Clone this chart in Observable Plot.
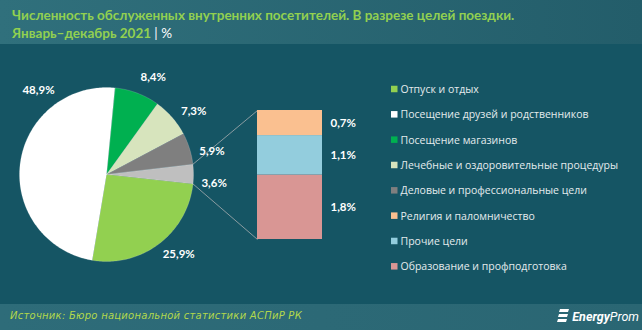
<!DOCTYPE html>
<html><head><meta charset="utf-8">
<script src="https://cdn.jsdelivr.net/npm/d3@7"></script>
<script src="https://cdn.jsdelivr.net/npm/@observablehq/plot@0.6"></script>
<style>
body{margin:0;background:#155564;}
#wrap{width:642px;height:330px;position:relative;overflow:hidden;background:#155564;}
#head{height:44px;background:linear-gradient(90deg,#30707c,#235d6a);box-sizing:border-box;padding:6px 0 0 12px;}
.t{font-family:Lato,sans-serif;font-weight:bold;font-size:13.5px;color:#92d050;line-height:18px;white-space:nowrap;}
.t .u{color:#ffffff;font-weight:normal;}
#chart{height:260px;}
#chart svg{display:block;}
#foot{height:26px;background:linear-gradient(90deg,#2e6c79,#2a6673);position:relative;}
#src{position:absolute;left:10px;top:6px;font-family:"DejaVu Sans",sans-serif;font-style:italic;font-size:10px;letter-spacing:0.25px;color:#b3d84c;}
#logo{position:absolute;right:3px;top:4px;display:flex;align-items:center;gap:3px;font-family:Roboto,sans-serif;font-style:italic;font-size:12.5px;color:#fff;}
#logo b{font-weight:bold;}
</style></head>
<body><div id="wrap">
<div id="head">
<div class="t">Численность обслуженных внутренних посетителей. В разрезе целей поездки.</div>
<div class="t">Январь–декабрь 2021 <span class="u">| %</span></div>
</div>
<div id="chart"></div>
<div id="foot">
<div id="src">Источник: Бюро национальной статистики АСПиР РК</div>
<div id="logo"><svg width="12" height="16" viewBox="0 0 12 16"><path d="M3 1h9l-1 3H2z M2 6h9l-1 3H1z M1 11h9l-1 3H0z" fill="#fff"/></svg><span><b>Energy</b>Prom</span></div>
</div>
</div>
<script>
// ---- data ----
const categories = ["Отпуск и отдых", "Посещение друзей и родственников", "Посещение магазинов", "Лечебные и оздоровительные процедуры", "Деловые и профессиональные цели", "Религия и паломничество", "Прочие цели", "Образование и профподготовка"];
const values = [25.9, 48.9, 8.4, 7.3, 5.9, 0.7, 1.1, 1.8];
const colors = ["#92d050", "#ffffff", "#00b050", "#d7e4bd", "#7f7f7f", "#fac090", "#93cddd", "#d99694"];
const otherIdx = [5, 6, 7];          // shown in the bar of pie
const pieOrder = [2, 3, 4, "other", 0, 1]; // clockwise
const otherColor = "#bfbfbf";

// ---- layout ----
const L = {top: 44, W: 642, H: 260, cx: 106, cy: 174, r: 87, start: 5.5,
  barX1: 257, barX2: 322, barTop: 110, barH: 129, labelR: 108, labelNudge: 5,
  legX1: 391, legX2: 397.5, legY0: 89, legDy: 25.33};
const nudgeOverride = {1: 43.5, 0: -4.8};

const fmt = v => d3.format(".1f")(v).replace(".", ",") + "%";
const otherTotal = d3.sum(otherIdx, i => values[i]);
const slices = pieOrder.map(k => k === "other"
  ? {key: "other", value: otherTotal, color: otherColor}
  : {key: k, value: values[k], color: colors[k]});
const total = d3.sum(slices, d => d.value);
let acc = L.start;
slices.forEach(s => { s.a0 = acc; acc += s.value / total * 360; s.a1 = acc; });
const pt = (a, rr) => ({x: L.cx + rr * Math.sin(a * Math.PI / 180), y: L.cy - rr * Math.cos(a * Math.PI / 180)});

slices.forEach(s => {
  s.pts = [{x: L.cx, y: L.cy}];
  const n = Math.max(2, Math.ceil(s.a1 - s.a0));
  for (let j = 0; j <= n; j++) s.pts.push(pt(s.a0 + (s.a1 - s.a0) * j / n, L.r));
});
const disk = d3.range(0, 361, 2).map(a => pt(a, L.r));

const pieLabels = slices.map(s => {
  const nd = nudgeOverride[s.key] !== undefined ? nudgeOverride[s.key] : L.labelNudge;
  const p = pt((s.a0 + s.a1) / 2 + nd, L.labelR);
  return {...p, text: fmt(s.value)};
});

// bar of pie (bottom -> top)
const k = L.barH / otherTotal;
let cum = 0;
const barSegs = otherIdx.slice().reverse().map(i => {
  const y1 = L.barTop + L.barH - cum * k; cum += values[i];
  const y2 = L.barTop + L.barH - cum * k;
  return {x1: L.barX1, x2: L.barX2, y1, y2, fill: colors[i], ym: (y1 + y2) / 2, text: fmt(values[i])};
});

const os = slices.find(s => s.key === "other");
const e0 = pt(os.a0, L.r), e1 = pt(os.a1, L.r);
const links = [
  {x1: e0.x, y1: e0.y, x2: L.barX1, y2: L.barTop},
  {x1: e1.x, y1: e1.y, x2: L.barX1, y2: L.barTop + L.barH}
];

const legend = categories.map((c, i) => ({label: c, color: colors[i], y: L.legY0 + i * L.legDy}));

const chart = Plot.plot({
  width: L.W, height: L.H, margin: 0,
  x: {domain: [0, L.W], range: [0, L.W], axis: null},
  y: {domain: [L.top, L.top + L.H], range: [0, L.H], axis: null},
  color: {type: "identity"},
  style: {background: "transparent"},
  marks: [
    Plot.link(links, {x1: "x1", y1: "y1", x2: "x2", y2: "y2", stroke: "#8a9ca1", strokeWidth: 1}),
    Plot.line(disk, {x: "x", y: "y", fill: "#155564", stroke: "none", curve: "linear-closed", ariaLabel: "pieshadow"}),
    ...slices.map(s => Plot.line(s.pts, {x: "x", y: "y", fill: s.color, stroke: "#ffffff", strokeWidth: 0.4, strokeOpacity: 0.4, curve: "linear-closed"})),
    Plot.rect(barSegs, {x1: "x1", x2: "x2", y1: "y1", y2: "y2", fill: "fill", ariaLabel: "bar"}),
    Plot.text(pieLabels, {x: "x", y: "y", text: "text", fill: "#ffffff", fontWeight: "bold", fontSize: 11.5, fontFamily: "Lato, sans-serif"}),
    Plot.text(barSegs, {x: L.barX2 + 8, y: "ym", text: "text", textAnchor: "start", fill: "#ffffff", fontWeight: "bold", fontSize: 11.5, fontFamily: "Lato, sans-serif"}),
    Plot.rect(legend, {x1: L.legX1, x2: L.legX2, y1: d => d.y - 3.25, y2: d => d.y + 3.25, fill: "color"}),
    Plot.text(legend, {x: L.legX2 + 2.5, y: "y", text: "label", textAnchor: "start", fill: "#e4ebed", fontSize: 10.5, fontFamily: "'Open Sans', sans-serif"})
  ]
});
d3.select(chart).selectAll('g[aria-label="pieshadow"], g[aria-label="bar"]').style("filter", "drop-shadow(3px 3px 3px rgba(0,0,0,0.5))");
document.getElementById("chart").appendChild(chart);
</script>
</body></html>
